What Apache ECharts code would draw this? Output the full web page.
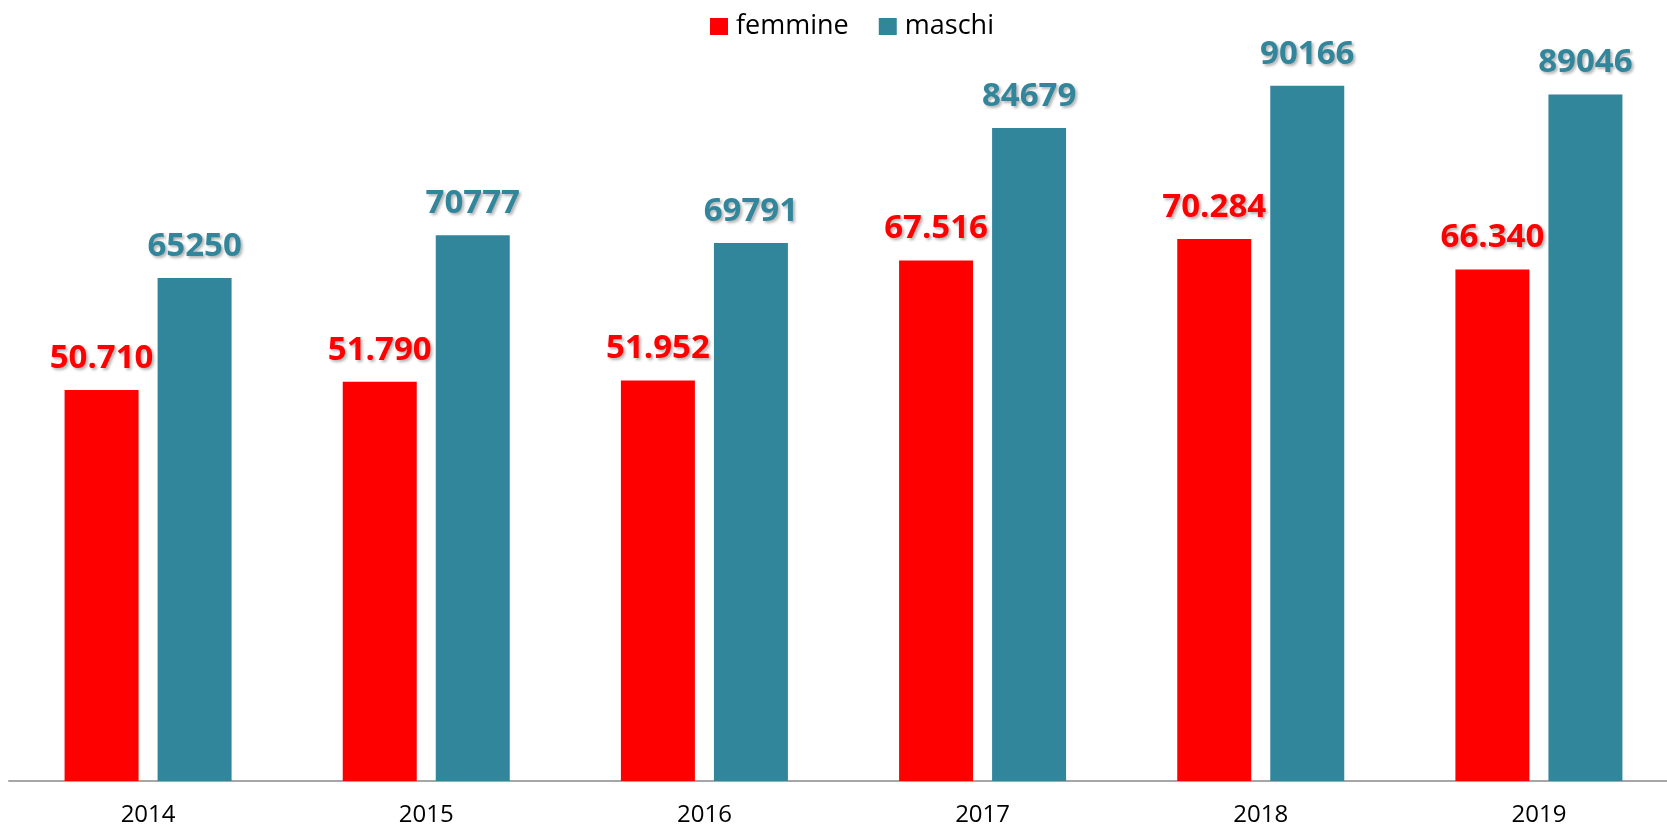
<!DOCTYPE html>
<html>
<head>
<meta charset="utf-8">
<script src="https://cdn.jsdelivr.net/npm/echarts@6/dist/echarts.min.js"></script>
<style>
html,body{margin:0;padding:0;background:#fff;overflow:hidden;width:1667px;height:827px;}
#chart{width:1680px;height:827px;}
</style>
</head>
<body>
<div id="chart"></div>
<script>
var categories = ['2014', '2015', '2016', '2017', '2018', '2019'];
var femmine = [50710, 51790, 51952, 67516, 70284, 66340];
var maschi = [65250, 70777, 69791, 84679, 90166, 89046];
var seriesNames = ['femmine', 'maschi'];

var RED = '#FF0000';
var TEAL = '#31869B';
var FONT = '"Open Sans", sans-serif';

function dotThousands(v) {
  var s = String(Math.round(v));
  return s.replace(/\B(?=(\d{3})+(?!\d))/g, '.');
}

var labelBase = {
  show: true,
  position: 'top',
  distance: 15,
  fontFamily: FONT,
  fontWeight: 'bold',
  fontSize: 33,
  textShadowColor: 'rgba(0,0,0,0.3)',
  textShadowBlur: 3,
  textShadowOffsetX: 2,
  textShadowOffsetY: 2
};

var chart = echarts.init(document.getElementById('chart'), null, {renderer: 'canvas', width: 1680, height: 827});
chart.setOption({
  animation: false,
  backgroundColor: '#fff',
  legend: {
    top: 8,
    left: 705,
    itemWidth: 18,
    itemHeight: 17,
    itemGap: 30,
    icon: 'rect',
    textStyle: {fontFamily: FONT, fontSize: 27, color: '#000', padding: [0, 0, 0, 3]},
    data: seriesNames
  },
  grid: {left: 9, width: 1669, top: 10, bottom: 45, containLabel: false},
  xAxis: {
    type: 'category',
    data: categories,
    axisLine: {show: true, lineStyle: {color: '#A6A6A6', width: 2}},
    axisTick: {show: false},
    axisLabel: {fontFamily: FONT, fontSize: 24, color: '#000', margin: 22}
  },
  yAxis: {
    type: 'value',
    min: 0,
    max: 100000,
    show: false,
    splitLine: {show: false}
  },
  series: [
    {
      name: seriesNames[0],
      type: 'bar',
      data: femmine,
      barWidth: 74,
      barGap: '25.7%',
      itemStyle: {color: RED},
      label: Object.assign({}, labelBase, {
        color: RED,
        formatter: function (p) { return dotThousands(p.value); }
      })
    },
    {
      name: seriesNames[1],
      type: 'bar',
      data: maschi,
      barWidth: 74,
      itemStyle: {color: TEAL},
      label: Object.assign({}, labelBase, {color: TEAL})
    }
  ]
});
</script>
</body>
</html>
